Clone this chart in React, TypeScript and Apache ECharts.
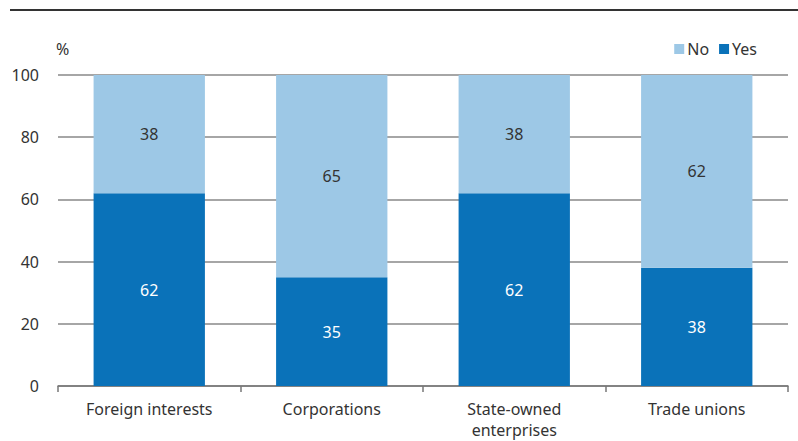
import React, { useEffect, useRef } from "react";
import * as echarts from "echarts";

const categories = ["Foreign interests", "Corporations", "State-owned\nenterprises", "Trade unions"];
const yesValues = [62, 35, 62, 38];
const noValues = [38, 65, 38, 62];
const yTicks = [0, 20, 40, 60, 80, 100];

const DARK = "#0a72b9";
const LIGHT = "#9dc8e6";
const FONT = "Noto Sans";
const FS = 16;

export default function App() {
  const ref = useRef<HTMLDivElement>(null);
  useEffect(() => {
    if (!ref.current) return;
    const chart = echarts.init(ref.current, undefined, { renderer: "svg" });
    chart.setOption({
      animation: false,
      textStyle: { fontFamily: FONT },
      grid: { left: 58, right: 10, top: 75, bottom: 55 },
      legend: {
        data: ["No", "Yes"],
        right: 36,
        top: 36,
        itemWidth: 10,
        itemHeight: 10,
        itemGap: 10,
        icon: "rect",
        textStyle: { fontFamily: FONT, fontSize: FS, color: "#333", padding: [0, 0, 0, -2] },
      },
      graphic: [
        { type: "line", shape: { x1: 10, y1: 10, x2: 798, y2: 10 }, style: { stroke: "#333", lineWidth: 2 } },
        { type: "text", left: 56, top: 41, style: { text: "%", fontFamily: FONT, fontSize: FS, fill: "#333" } },
      ],
      xAxis: {
        type: "category",
        data: categories,
        axisLine: { lineStyle: { color: "#777", width: 1.5 } },
        axisTick: { show: true, length: 6, lineStyle: { color: "#777", width: 1.5 } },
        axisLabel: { fontFamily: FONT, fontSize: FS, color: "#333", margin: 12, lineHeight: 21 },
      },
      yAxis: {
        type: "value",
        min: yTicks[0],
        max: yTicks[yTicks.length - 1],
        interval: 20,
        axisLine: { show: false },
        axisTick: { show: false },
        splitLine: { lineStyle: { color: "#888", width: 1.5 } },
        axisLabel: { fontFamily: FONT, fontSize: FS, color: "#333", margin: 19 },
      },
      series: [
        {
          name: "Yes",
          type: "bar",
          stack: "total",
          data: yesValues,
          barCategoryGap: "39%",
          itemStyle: { color: DARK },
          label: { show: true, position: "inside", color: "#fff", fontFamily: FONT, fontSize: FS },
        },
        {
          name: "No",
          type: "bar",
          stack: "total",
          data: noValues,
          barCategoryGap: "39%",
          itemStyle: { color: LIGHT },
          label: { show: true, position: "inside", color: "#333", fontFamily: FONT, fontSize: FS },
        },
      ],
    });
    return () => chart.dispose();
  }, []);
  return (
    <div
      ref={ref}
      style={{ position: "absolute", left: 0, top: 0, width: 798, height: 441, background: "#fff" }}
    />
  );
}
